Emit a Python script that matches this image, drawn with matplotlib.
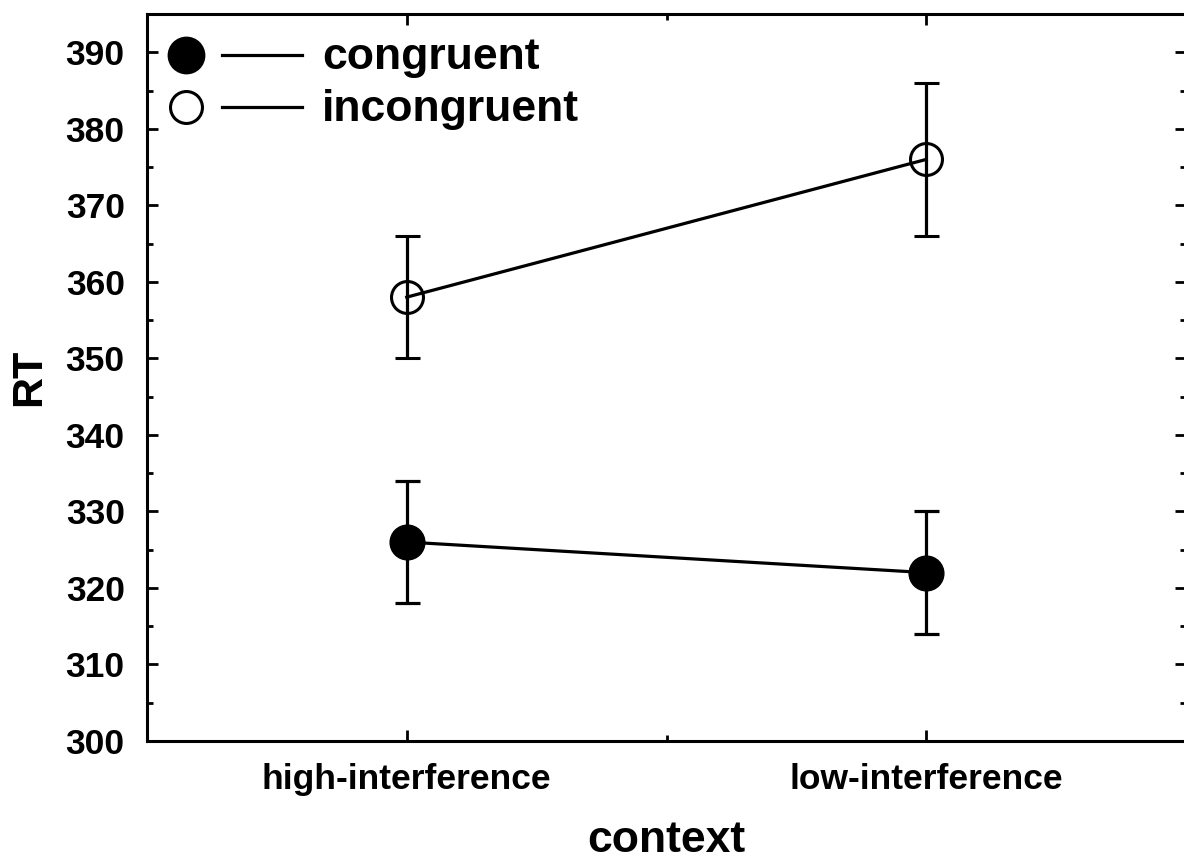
import matplotlib
matplotlib.use("Agg")
import matplotlib.pyplot as plt
from matplotlib.ticker import MultipleLocator, FixedLocator

# Mean reaction times (ms) per context with error-bar half-widths
contexts = ["high-interference", "low-interference"]
congruent_rt = [326, 322]
congruent_err = [8, 8]
incongruent_rt = [358, 376]
incongruent_err = [8, 10]

plt.rcParams["font.family"] = ["Liberation Sans", "DejaVu Sans"]
plt.rcParams["font.weight"] = "bold"

fig = plt.figure(figsize=(11.84, 8.59), dpi=100)
ax = fig.add_axes([147 / 1184, 118 / 859, 1039 / 1184, 727 / 859])

xpos = [1, 2]
lw = 2.3

ax.errorbar(xpos, congruent_rt, yerr=congruent_err, color="black", lw=lw,
            elinewidth=lw, capsize=9, capthick=lw, marker="o", ms=25,
            mfc="black", mec="black", zorder=3)
ax.errorbar(xpos, incongruent_rt, yerr=incongruent_err, color="black", lw=lw,
            elinewidth=lw, capsize=9, capthick=lw, marker="o", ms=23,
            mfc="none", mec="black", mew=2.2, zorder=3)

ax.set_xlim(0.5, 2.5)
ax.set_ylim(300, 395)

ax.set_xticks(xpos)
ax.set_xticklabels(contexts)
ax.xaxis.set_minor_locator(FixedLocator([1.5]))
ax.yaxis.set_major_locator(MultipleLocator(10))
ax.yaxis.set_minor_locator(MultipleLocator(5))

ax.tick_params(which="both", direction="in", top=True, right=True,
               width=2.0, labelsize=25.5)
ax.tick_params(axis="y", which="major", length=8, pad=16)
ax.tick_params(axis="x", which="major", length=8, pad=16)
ax.tick_params(which="minor", length=4)
for lab in ax.get_xticklabels() + ax.get_yticklabels():
    lab.set_fontweight("bold")

for sp in ax.spines.values():
    sp.set_linewidth(2.2)

ax.set_xlabel("context", fontsize=32, fontweight="bold", labelpad=17)
ax.set_ylabel("RT", fontsize=31, fontweight="bold", labelpad=12)

# Legend: marker, then a separate line segment, then the label
rows = [(0.9436, "black", "congruent"), (0.872, "none", "incongruent")]
for y, fc, label in rows:
    ax.plot([0.0375], [y], transform=ax.transAxes, marker="o",
            ms=25 if fc == "black" else 23, mfc=fc, mec="black", mew=2.2,
            clip_on=False, zorder=4)
    ax.plot([0.0722, 0.1492], [y, y], transform=ax.transAxes, color="black",
            lw=lw, clip_on=False, zorder=4)
    ax.text(0.1684, y - 0.004, label, transform=ax.transAxes, fontsize=32,
            fontweight="bold", va="center", ha="left")

fig.savefig("out.png", dpi=100)
